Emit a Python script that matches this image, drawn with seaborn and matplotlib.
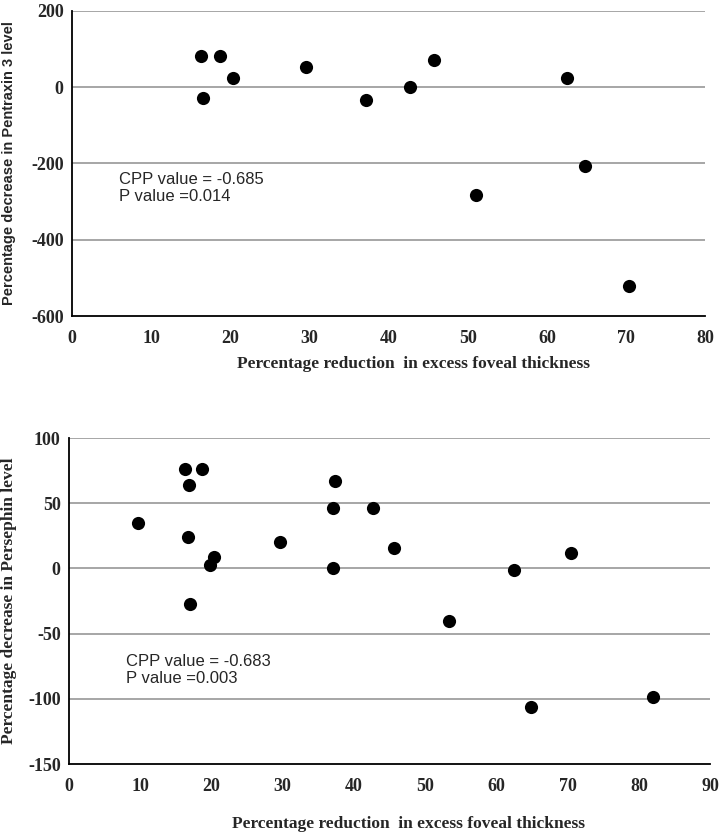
import numpy as np
import pandas as pd
import matplotlib
matplotlib.use('Agg')
import matplotlib.pyplot as plt
import seaborn as sns

# 상단: Pentraxin 3
ptx_x = [16.3, 18.7, 20.3, 16.6, 29.6, 37.2, 42.7, 45.8, 62.5, 64.8, 51.0, 70.4]
ptx_y = [81, 81, 25, -28, 53, -34, 1, 71, 24, -207, -283, -522]

# 하단: Persephin
psp_x = [16.3, 18.6, 16.85, 9.7, 16.7, 20.3, 19.8, 17.0, 29.6, 37.3, 37.0, 37.0,
         42.6, 45.6, 53.3, 62.5, 70.4, 64.9, 82.0]
psp_y = [76, 76, 64, 35, 24, 9, 2.5, -27, 20, 67, 46, 0,
         46, 16, -40, -1.5, 11.8, -106.5, -98.3]

x_label = 'Percentage reduction  in excess foveal thickness'
top_ylabel = 'Percentage decrease in Pentraxin 3 level'
bot_ylabel = 'Percentage decrease in Persephin level'
top_note = 'CPP value = -0.685\nP value =0.014'
bot_note = 'CPP value = -0.683\nP value =0.003'

sns.set_style('white')
plt.rcParams['font.family'] = ['Liberation Serif', 'DejaVu Serif']

df_top = pd.DataFrame({'x': ptx_x, 'y': ptx_y})
df_bot = pd.DataFrame({'x': psp_x, 'y': psp_y})

fig = plt.figure(figsize=(7.24, 8.36), dpi=100)
ax1 = fig.add_axes([0.0994, 0.622, 0.8746, 0.365])
ax2 = fig.add_axes([0.0953, 0.0861, 0.8857, 0.3899])

tick_font = dict(fontsize=13, fontweight='bold', family='Liberation Serif')


def style_axis(ax, xlim, xticks, ylim, yticks):
    ax.set_xlim(*xlim)
    ax.set_ylim(*ylim)
    ax.set_xticks(xticks)
    ax.set_yticks(yticks)
    ax.set_xticklabels([str(t) for t in xticks], **tick_font)
    ax.set_yticklabels([str(t) for t in yticks], **tick_font)
    for t in yticks[1:]:
        ax.axhline(t, color='#a6a6a6', linewidth=1.4, zorder=0)
    for s in ['top', 'right']:
        ax.spines[s].set_visible(False)
    for s in ['left', 'bottom']:
        ax.spines[s].set_color('black')
        ax.spines[s].set_linewidth(1.3)
    ax.tick_params(axis='both', direction='inout', length=6, width=1.2,
                   color='black')
    ax.tick_params(axis='y', pad=3)
    ax.tick_params(axis='x', pad=7)


# 상단 그래프
sns.scatterplot(data=df_top, x='x', y='y', ax=ax1, s=90, color='black',
                edgecolor='black', linewidth=0, zorder=3, legend=False)
style_axis(ax1, (0, 80), list(range(0, 81, 10)), (-600, 200), list(range(-600, 201, 200)))
ax1.set_xlabel(x_label, fontsize=12.5, fontweight='bold', family='Liberation Serif')
ax1.xaxis.set_label_coords(0.54, -0.13)
ax1.set_ylabel(top_ylabel, fontsize=10.5, fontweight='bold', family='Liberation Sans')
ax1.yaxis.set_label_coords(-0.088, 0.5)
ax1.text(6.0, -264, top_note, fontsize=12, family='Liberation Sans',
         va='center', ha='left', linespacing=1.2)

# 하단 그래프
sns.scatterplot(data=df_bot, x='x', y='y', ax=ax2, s=90, color='black',
                edgecolor='black', linewidth=0, zorder=3, legend=False)
style_axis(ax2, (0, 90), list(range(0, 91, 10)), (-150, 100), list(range(-150, 101, 50)))
ax2.set_xlabel(x_label, fontsize=12.5, fontweight='bold', family='Liberation Serif')
ax2.xaxis.set_label_coords(0.53, -0.16)
ax2.set_ylabel(bot_ylabel, fontsize=12.5, fontweight='bold', family='Liberation Serif')
ax2.yaxis.set_label_coords(-0.081, 0.5)
ax2.text(8.0, -78, bot_note, fontsize=12, family='Liberation Sans',
         va='center', ha='left', linespacing=1.2)

fig.savefig('out.png', dpi=100)
